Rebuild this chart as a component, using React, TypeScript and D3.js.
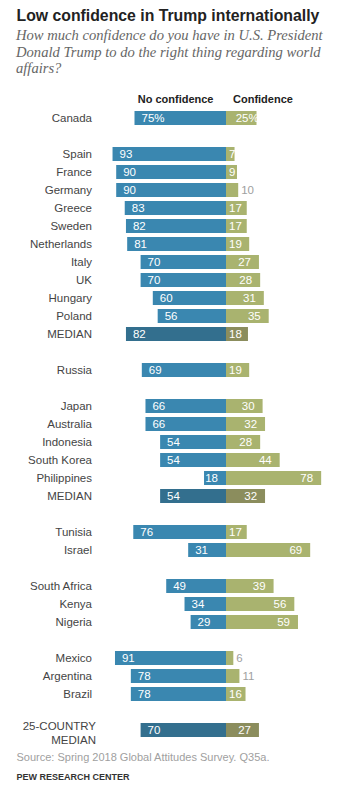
import * as d3 from "d3";

// rows in chart order; "" marks a blank spacer between groups
const countries = [
  "Canada", "",
  "Spain", "France", "Germany", "Greece", "Sweden", "Netherlands", "Italy", "UK", "Hungary", "Poland", "MEDIAN-EU", "",
  "Russia", "",
  "Japan", "Australia", "Indonesia", "South Korea", "Philippines", "MEDIAN-AP", "",
  "Tunisia", "Israel", "",
  "South Africa", "Kenya", "Nigeria", "",
  "Mexico", "Argentina", "Brazil", "",
  "25-COUNTRY MEDIAN",
];

const noConfidence = [
  75, 0,
  93, 90, 90, 83, 82, 81, 70, 70, 60, 56, 82, 0,
  69, 0,
  66, 66, 54, 54, 18, 54, 0,
  76, 31, 0,
  49, 34, 29, 0,
  91, 78, 78, 0,
  70,
];

const confidence = [
  25, 0,
  7, 9, 10, 17, 17, 19, 27, 28, 31, 35, 18, 0,
  19, 0,
  30, 32, 28, 44, 78, 32, 0,
  17, 69, 0,
  39, 56, 59, 0,
  6, 11, 16, 0,
  27,
];

// confidence values printed beside the bar instead of inside it
const labelsOutside = ["Germany", "Mexico", "Argentina"];

const title = "Low confidence in Trump internationally";
const subtitle = [
  "How much confidence do you have in U.S. President",
  "Donald Trump to do the right thing regarding world",
  "affairs?",
];
const source = "Source: Spring 2018 Global Attitudes Survey. Q35a.";
const credit = "PEW RESEARCH CENTER";

const BLUE = "#3a87b0";
const BLUE_MED = "#336f8e";
const GREEN = "#a9b36f";
const GREEN_MED = "#8b8d5d";
const SANS = "'Liberation Sans', Arial, Helvetica, sans-serif";

export default function App() {
  const W = 354;
  const H = 792;
  const fs = 11.5;
  const digit = fs * 0.556;

  const x = d3.scaleLinear().domain([-100, 100]).range([104, 348]);
  const keys = countries.map((c, i) => (c === "" ? `gap${i}` : c));
  const y = d3
    .scaleBand<string>()
    .domain(keys)
    .range([109, 109 + keys.length * 18])
    .paddingInner(4 / 18)
    .paddingOuter(2 / 18);

  const zero = x(0);
  const rows = countries
    .map((c, i) => ({ name: c, key: keys[i], no: noConfidence[i], yes: confidence[i], i }))
    .filter((d) => d.name !== "");

  return (
    <svg
      width={W}
      height={H}
      style={{ position: "absolute", left: 0, top: 0, background: "#fff" }}
      fontFamily={SANS}
    >
      <text x={16.5} y={21} fontSize={15.8} fontWeight="bold" fill="#222">
        {title}
      </text>
      {subtitle.map((s, i) => (
        <text key={i} x={16} y={40 + i * 16.5} fontSize={14.6} fontStyle="italic" fill="#666"
          fontFamily="'Liberation Serif', 'DejaVu Serif', serif">
          {s}
        </text>
      ))}

      <text x={213.5} y={102.5} fontSize={11} fontWeight="bold" fill="#222" textAnchor="end">
        No confidence
      </text>
      <text x={233} y={102.5} fontSize={11} fontWeight="bold" fill="#222">
        Confidence
      </text>

      {rows.map((d) => {
        const isMedian = d.name.includes("MEDIAN");
        const y0 = y(d.key) ?? 0;
        const bh = y.bandwidth();
        const cy = y0 + bh / 2;
        const left = x(-d.no);
        const right = x(d.yes);
        const pct = d.i === 0 ? "%" : "";
        const twNo = String(d.no).length * digit;
        const twYes = String(d.yes).length * digit;
        const noX = Math.min(left + 7, zero - 8 - twNo);
        const outside = labelsOutside.includes(d.name);
        const yesX = outside ? right + 3 : Math.max(right - 8 - twYes, zero + 3);
        const last = d.name === "25-COUNTRY MEDIAN";
        return (
          <g key={d.key}>
            {last ? (
              <text x={96} y={cy - 4} fontSize={fs} fill="#444" textAnchor="end">
                <tspan x={96} dy="0.35em">25-COUNTRY</tspan>
                <tspan x={96} dy="1.2em">MEDIAN</tspan>
              </text>
            ) : (
              <text x={92} y={cy} dy="0.35em" fontSize={fs} fill="#444" textAnchor="end">
                {isMedian ? "MEDIAN" : d.name}
              </text>
            )}
            <rect x={left} y={y0} width={zero - left} height={bh} fill={isMedian ? BLUE_MED : BLUE} />
            <rect x={zero} y={y0} width={right - zero} height={bh} fill={isMedian ? GREEN_MED : GREEN} />
            <text x={noX} y={cy} dy="0.36em" fontSize={fs} fill="#fff">
              {d.no}
              {pct}
            </text>
            <text x={yesX} y={cy} dy="0.36em" fontSize={fs} fill={outside ? "#a0a0a0" : "#fff"}>
              {d.yes}
              {pct}
            </text>
          </g>
        );
      })}

      <text x={16.5} y={761} fontSize={11} fill="#a0a0a0">
        {source}
      </text>
      <text x={16.5} y={780} fontSize={9} fontWeight="bold" fill="#333">
        {credit}
      </text>
    </svg>
  );
}
